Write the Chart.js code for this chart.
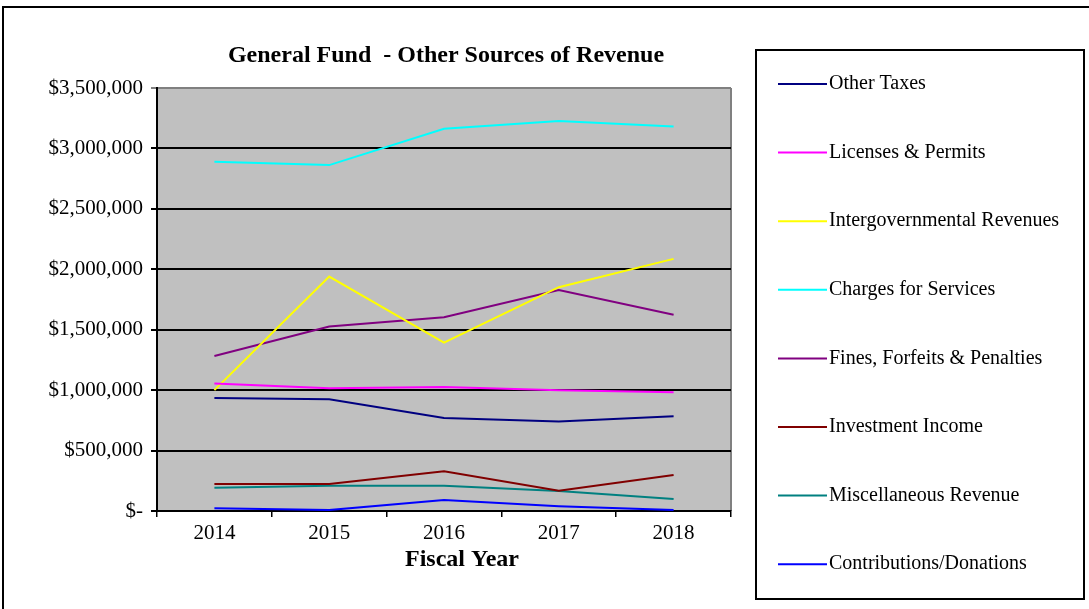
<!DOCTYPE html>
<html>
<head>
<meta charset="utf-8">
<script src="https://cdn.jsdelivr.net/npm/chart.js@4/dist/chart.umd.min.js"></script>
<style>
  body { margin: 0; background: #fff; }
  canvas { display: block; }
</style>
</head>
<body>
<canvas id="myChart" width="1089" height="609"></canvas>
<script>
// data
const years = ["2014", "2015", "2016", "2017", "2018"];
const otherTaxes = [935000, 925000, 770000, 740000, 785000];
const licensesPermits = [1055000, 1015000, 1025000, 1000000, 982000];
const intergovRevenues = [1000000, 1940000, 1393000, 1852000, 2086000];
const chargesServices = [2890000, 2862000, 3162000, 3226000, 3181000];
const finesPenalties = [1283000, 1526000, 1603000, 1829000, 1623000];
const investmentIncome = [224000, 223000, 329000, 168000, 298000];
const miscRevenue = [193000, 209000, 209000, 166000, 99000];
const contributions = [22000, 8000, 91000, 39000, 8000];

const seriesNames = [
  "Other Taxes", "Licenses & Permits", "Intergovernmental Revenues", "Charges for Services",
  "Fines, Forfeits & Penalties", "Investment Income", "Miscellaneous Revenue", "Contributions/Donations"
];
const seriesValues = [otherTaxes, licensesPermits, intergovRevenues, chargesServices,
  finesPenalties, investmentIncome, miscRevenue, contributions];
const seriesColors = ["#000080", "#FF00FF", "#FFFF00", "#00FFFF", "#800080", "#800000", "#008080", "#0000FF"];

const yMin = 0, yMax = 3500000, yStep = 500000;
const chartTitle = "General Fund  - Other Sources of Revenue";
const xTitle = "Fiscal Year";

const serif = '"Liberation Serif", "Times New Roman", serif';

function money(v) {
  if (v === 0) return "$-";
  return "$" + v.toLocaleString("en-US");
}

// background, outer frame, title, axis title and the boxed legend
const decorations = {
  id: "decorations",
  beforeDraw(chart) {
    const ctx = chart.ctx;
    const a = chart.chartArea;
    ctx.save();
    ctx.fillStyle = "#fff";
    ctx.fillRect(0, 0, chart.width, chart.height);
    ctx.strokeStyle = "#000";
    ctx.lineWidth = 2;
    ctx.strokeRect(3, 7, chart.width + 10, chart.height + 10);
    ctx.fillStyle = "#c0c0c0";
    ctx.fillRect(a.left, a.top, a.right - a.left, a.bottom - a.top);
    ctx.strokeStyle = "#808080";
    ctx.lineWidth = 2;
    ctx.beginPath();
    ctx.moveTo(a.right, a.top);
    ctx.lineTo(a.right, a.bottom);
    ctx.stroke();
    ctx.restore();
  },
  afterDraw(chart) {
    const ctx = chart.ctx;
    ctx.save();
    ctx.fillStyle = "#000";
    ctx.textAlign = "center";
    ctx.textBaseline = "middle";
    ctx.font = "bold 24px " + serif;
    ctx.fillText(chartTitle, 446, 56);
    ctx.fillText(xTitle, 462, 560);

    // legend box
    ctx.strokeStyle = "#000";
    ctx.lineWidth = 2;
    ctx.strokeRect(756, 50, 328, 549);
    ctx.font = "20px " + serif;
    ctx.textAlign = "left";
    chart.data.datasets.forEach((ds, i) => {
      const y = 84 + i * 68.6;
      ctx.strokeStyle = ds.borderColor;
      ctx.lineWidth = 2;
      ctx.beginPath();
      ctx.moveTo(778, y);
      ctx.lineTo(827, y);
      ctx.stroke();
      ctx.fillStyle = "#000";
      ctx.fillText(ds.label, 829, y);
    });
    ctx.restore();
  }
};

const ctx = document.getElementById("myChart").getContext("2d");
const chart = new Chart(ctx, {
  type: "line",
  data: {
    labels: years,
    datasets: seriesNames.map((name, i) => ({
      label: name,
      data: seriesValues[i],
      borderColor: seriesColors[i],
      backgroundColor: seriesColors[i],
      borderWidth: 2,
      pointRadius: 0,
      tension: 0,
      fill: false
    }))
  },
  options: {
    responsive: false,
    animation: false,
    layout: { padding: { left: 0, right: 358, top: 88, bottom: 0 } },
    plugins: {
      legend: { display: false },
      title: { display: false },
      tooltip: { enabled: false }
    },
    scales: {
      x: {
        offset: true,
        afterFit: (scale) => { scale.height = 98; },
        grid: {
          offset: true,
          drawOnChartArea: false,
          color: "#000",
          tickLength: 6,
          lineWidth: 1.5
        },
        border: { color: "#000", width: 2 },
        ticks: {
          color: "#000",
          padding: 4,
          font: { family: serif, size: 21 }
        }
      },
      y: {
        min: yMin,
        max: yMax,
        afterFit: (scale) => { scale.width = 157; },
        grid: {
          color: (c) => (c.tick && c.tick.value === yMax ? "#808080" : "#000"),
          lineWidth: 2,
          tickLength: 6
        },
        border: { color: "#000", width: 2 },
        ticks: {
          stepSize: yStep,
          color: "#000",
          padding: 8,
          font: { family: serif, size: 21 },
          callback: (v) => money(v)
        }
      }
    }
  },
  plugins: [decorations]
});
</script>
</body>
</html>
